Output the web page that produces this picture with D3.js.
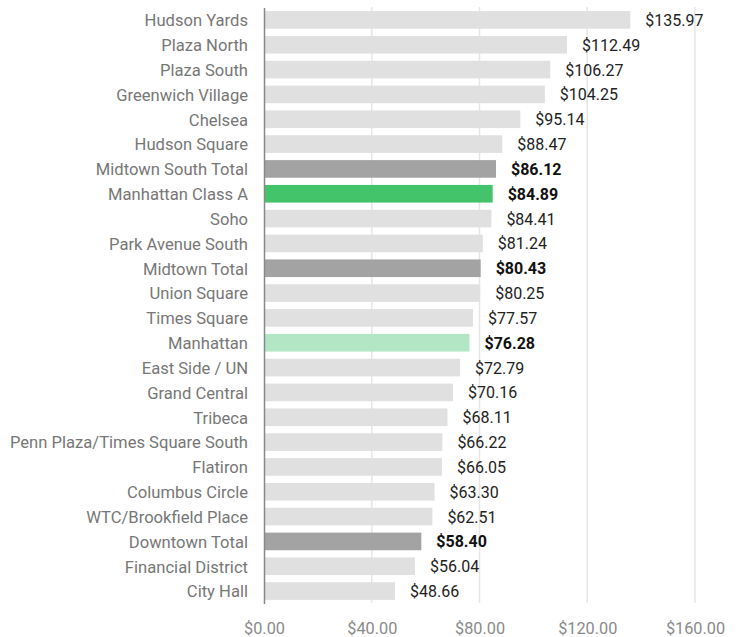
<!DOCTYPE html>
<html><head><meta charset="utf-8">
<script src="https://cdn.jsdelivr.net/npm/d3@7"></script>
<style>body{margin:0;background:#fff}svg{display:block;font-family:Roboto,"Noto Sans",sans-serif}</style>
</head><body><svg id="c" width="740" height="637"></svg>
<script>
const categories = ["Hudson Yards","Plaza North","Plaza South","Greenwich Village","Chelsea","Hudson Square","Midtown South Total","Manhattan Class A","Soho","Park Avenue South","Midtown Total","Union Square","Times Square","Manhattan","East Side / UN","Grand Central","Tribeca","Penn Plaza/Times Square South","Flatiron","Columbus Circle","WTC/Brookfield Place","Downtown Total","Financial District","City Hall"];
const values = [135.97,112.49,106.27,104.25,95.14,88.47,86.12,84.89,84.41,81.24,80.43,80.25,77.57,76.28,72.79,70.16,68.11,66.22,66.05,63.30,62.51,58.40,56.04,48.66];
const kinds = ["n","n","n","n","n","n","total","classA","n","n","total","n","n","manhattan","n","n","n","n","n","n","n","total","n","n"];
const tickValues = [0,40,80,120,160];

const colors = {n:"#e0e0e0", total:"#a3a3a3", classA:"#43c46a", manhattan:"#b3e6c4"};
const svg = d3.select("#c");
const x = d3.scaleLinear().domain([0,160]).range([264,695]);
const y = d3.scaleBand().domain(categories).range([7.5,603.5]).paddingInner(0.29).paddingOuter(0.145);

// gridlines
svg.append("g").selectAll("line").data(tickValues.slice(1)).join("line")
  .attr("x1",d=>x(d)).attr("x2",d=>x(d)).attr("y1",7).attr("y2",603)
  .attr("stroke","#e6e6e6").attr("stroke-width",1.5);

// bars
svg.append("g").selectAll("rect").data(categories).join("rect")
  .attr("x",x(0)).attr("y",d=>y(d)).attr("height",y.bandwidth())
  .attr("width",(d,i)=>x(values[i])-x(0))
  .attr("fill",(d,i)=>colors[kinds[i]]);

// value labels
svg.append("g").selectAll("text").data(categories).join("text")
  .attr("x",(d,i)=>x(values[i])+15).attr("y",d=>y(d)+y.bandwidth()/2)
  .attr("dy","0.38em").attr("font-size",16)
  .attr("font-weight",(d,i)=>kinds[i]==="n"?400:700)
  .attr("fill",(d,i)=>kinds[i]==="n"?"#222":"#111")
  .text((d,i)=>"$"+values[i].toFixed(2));

// category axis
const ya = svg.append("g").attr("transform",`translate(${x(0)},0)`)
  .call(d3.axisLeft(y).tickSize(0).tickPadding(16));
ya.select(".domain").attr("stroke","#888").attr("stroke-width",1.5);
ya.selectAll("text").attr("font-size",16.6).attr("fill","#777").attr("dy","0.38em").attr("font-family","Roboto,'Noto Sans',sans-serif");

// x axis
const xa = svg.append("g").attr("transform","translate(0,603)")
  .call(d3.axisBottom(x).tickValues(tickValues).tickSize(0).tickPadding(19).tickFormat(d=>"$"+d3.format(".2f")(d)));
xa.select(".domain").remove();
xa.selectAll("text").attr("font-size",16.3).attr("fill","#8a8a8a").attr("font-family","Roboto,'Noto Sans',sans-serif");
</script></body></html>
